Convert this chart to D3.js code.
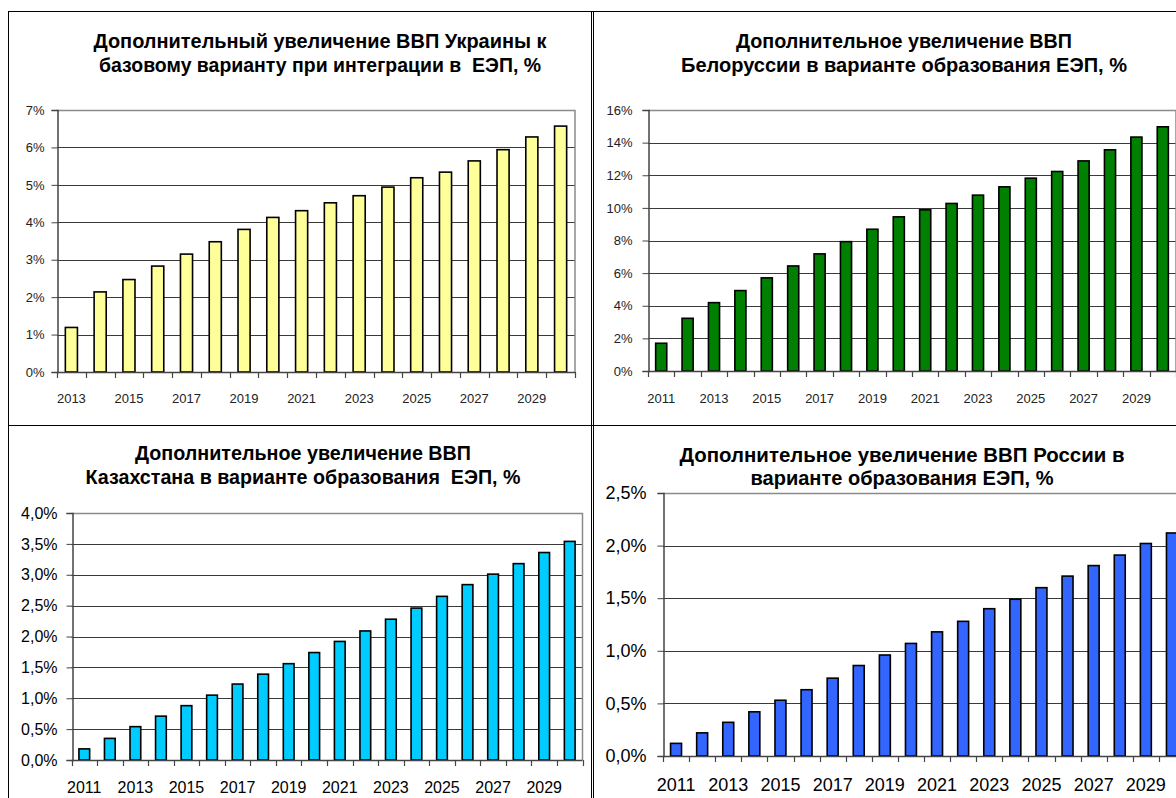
<!DOCTYPE html>
<html><head><meta charset="utf-8">
<script src="https://cdn.jsdelivr.net/npm/d3@7/dist/d3.min.js"></script>
<style>
html,body{margin:0;padding:0;background:#fff;}
svg{display:block;font-family:"Liberation Sans",Arial,sans-serif;}
text.title{white-space:pre;}
</style></head>
<body>
<svg id="chart" width="1176" height="798"></svg>
<script>
// ---------- DATA ----------
const ukraineYears = [2013,2014,2015,2016,2017,2018,2019,2020,2021,2022,2023,2024,2025,2026,2027,2028,2029,2030];
const ukraineValues = [1.19,2.14,2.47,2.83,3.15,3.48,3.81,4.13,4.31,4.52,4.71,4.94,5.19,5.34,5.64,5.94,6.28,6.57];
const ukraineTicks = [0,1,2,3,4,5,6,7];
const ukraineTitle = ["Дополнительный увеличение ВВП Украины к", "базовому варианту при интеграции в  ЕЭП, %"];

const belarusYears = [2011,2012,2013,2014,2015,2016,2017,2018,2019,2020,2021,2022,2023,2024,2025,2026,2027,2028,2029,2030];
const belarusValues = [1.70,3.23,4.19,4.93,5.71,6.44,7.18,7.93,8.69,9.45,9.88,10.27,10.78,11.29,11.82,12.23,12.88,13.56,14.34,14.97];
const belarusTicks = [0,2,4,6,8,10,12,14,16];
const belarusTitle = ["Дополнительное увеличение ВВП", "Белоруссии в варианте образования ЕЭП, %"];

const kazakhYears = [2011,2012,2013,2014,2015,2016,2017,2018,2019,2020,2021,2022,2023,2024,2025,2026,2027,2028,2029,2030];
const kazakhValues = [0.18,0.35,0.54,0.71,0.88,1.05,1.23,1.39,1.56,1.74,1.92,2.09,2.28,2.46,2.65,2.84,3.01,3.18,3.36,3.54];
const kazakhTicks = [0,0.5,1,1.5,2,2.5,3,3.5,4];
const kazakhTitle = ["Дополнительное увеличение ВВП", "Казахстана в варианте образования  ЕЭП, %"];

const russiaYears = [2011,2012,2013,2014,2015,2016,2017,2018,2019,2020,2021,2022,2023,2024,2025,2026,2027,2028,2029,2030];
const russiaValues = [0.12,0.22,0.32,0.42,0.53,0.63,0.74,0.86,0.96,1.07,1.18,1.28,1.40,1.49,1.60,1.71,1.81,1.91,2.02,2.12];
const russiaTicks = [0,0.5,1,1.5,2,2.5];
const russiaTitle = ["Дополнительное увеличение ВВП России в", "варианте образования ЕЭП, %"];

// ---------- DRAW ----------
const svg = d3.select("#chart");

// panel frames
const frames = svg.append("g").attr("fill","none").attr("stroke","#000").attr("stroke-width",1);
frames.append("line").attr("x1",8.5).attr("x2",8.5).attr("y1",11).attr("y2",798);
frames.append("line").attr("x1",8).attr("x2",1176).attr("y1",11.5).attr("y2",11.5);
frames.append("line").attr("x1",8).attr("x2",1176).attr("y1",425.5).attr("y2",425.5);
frames.append("line").attr("x1",591.5).attr("x2",591.5).attr("y1",11).attr("y2",798);
frames.append("line").attr("x1",593.5).attr("x2",593.5).attr("y1",11).attr("y2",798);

function panel(o){
  const g = svg.append("g");
  const x = d3.scaleBand().domain(o.years).range([o.left, o.right]).paddingInner(0.58).paddingOuter(0.29);
  const y = d3.scaleLinear().domain([0, o.max]).range([o.bottom, o.top]);

  // gridlines
  g.append("g").selectAll("line").data(o.ticks.filter(t => t > 0 && t < o.max)).join("line")
    .attr("x1", o.left).attr("x2", o.right)
    .attr("y1", d => Math.round(y(d)) + 0.5).attr("y2", d => Math.round(y(d)) + 0.5)
    .attr("stroke", "#3a3a3a").attr("stroke-width", 1);
  // plot area border top/right
  g.append("path")
    .attr("d", `M${o.left},${Math.round(o.top)+0.5}H${o.right}V${o.bottom}`)
    .attr("fill","none").attr("stroke","#8a8a8a").attr("stroke-width",1.5);

  // bars
  g.append("g").selectAll("rect").data(o.years.map((yr,i)=>({yr, v:o.values[i]}))).join("rect")
    .attr("x", d => x(d.yr)).attr("width", x.bandwidth())
    .attr("y", d => y(d.v)).attr("height", d => y(0) - y(d.v))
    .attr("fill", o.color).attr("stroke", "#000").attr("stroke-width", 1.6);

  // y axis
  const yAxis = d3.axisLeft(y).tickValues(o.ticks).tickSize(6).tickPadding(o.ypad).tickFormat(o.fmt);
  const ya = g.append("g").attr("transform", `translate(${Math.round(o.left)+0.5},0)`).call(yAxis);
  ya.select(".domain").attr("stroke","#444").attr("stroke-width",1.5);
  ya.selectAll(".tick line").attr("stroke","#444");
  ya.selectAll("text").attr("font-size", o.fs).attr("fill", o.tc).attr("font-family","Liberation Sans, Arial, sans-serif");

  // x axis: ticks at category boundaries, labels every other year
  const step = x.step();
  const bounds = o.years.map((yr,i)=> o.left + step*i).concat([o.left + step*o.years.length]);
  const xa = g.append("g");
  xa.append("line").attr("x1", o.left).attr("x2", o.right)
    .attr("y1", Math.round(o.bottom)+0.5).attr("y2", Math.round(o.bottom)+0.5)
    .attr("stroke","#444").attr("stroke-width",1.5);
  xa.selectAll("line.tk").data(bounds).join("line").attr("class","tk")
    .attr("x1", d => Math.round(d)+0.5).attr("x2", d => Math.round(d)+0.5)
    .attr("y1", Math.round(o.bottom)).attr("y2", Math.round(o.bottom)+6)
    .attr("stroke","#444").attr("stroke-width",1.2);
  xa.selectAll("text").data(o.years.filter(yr => yr % 2 === 1)).join("text")
    .attr("x", d => x(d) + x.bandwidth()/2).attr("y", o.xly)
    .attr("text-anchor","middle").attr("font-size", o.fs).attr("fill", o.tc)
    .text(d => d);

  // title
  o.title.forEach((line, i) => {
    g.append("text").attr("class","title").attr("x", o.tx).attr("y", o.ty[i])
      .attr("text-anchor","middle").attr("font-weight","bold").attr("font-size", 20)
      .attr("textLength", o.tw[i]).attr("lengthAdjust","spacingAndGlyphs")
      .attr("fill","#000").text(line);
  });
}

panel({years: ukraineYears, values: ukraineValues, ticks: ukraineTicks, max: 7, title: ukraineTitle,
  color:"#FFFF99", left:57, right:575, top:110, bottom:372, fs:13, ypad:7, tc:"#222",
  fmt: d => d + "%", xly:403, tx:320, ty:[48,72], tw:[453,442]});

panel({years: belarusYears, values: belarusValues, ticks: belarusTicks, max: 16, title: belarusTitle,
  color:"#008000", left:648, right:1176, top:110, bottom:371, fs:13, ypad:10, tc:"#222",
  fmt: d => d + "%", xly:403, tx:904, ty:[48,72], tw:[336,446]});

panel({years: kazakhYears, values: kazakhValues, ticks: kazakhTicks, max: 4, title: kazakhTitle,
  color:"#00CCFF", left:71.5, right:582.5, top:513, bottom:760, fs:16, ypad:9, tc:"#000",
  fmt: d => d3.format(".1f")(d).replace(".", ",") + "%", xly:793, tx:303, ty:[460,484], tw:[336,435]});

panel({years: russiaYears, values: russiaValues, ticks: russiaTicks, max: 2.5, title: russiaTitle,
  color:"#3366FF", left:663, right:1185, top:493, bottom:756, fs:18, ypad:11, tc:"#000",
  fmt: d => d3.format(".1f")(d).replace(".", ",") + "%", xly:791, tx:902, ty:[462,485], tw:[445,303]});
</script>
</body></html>
